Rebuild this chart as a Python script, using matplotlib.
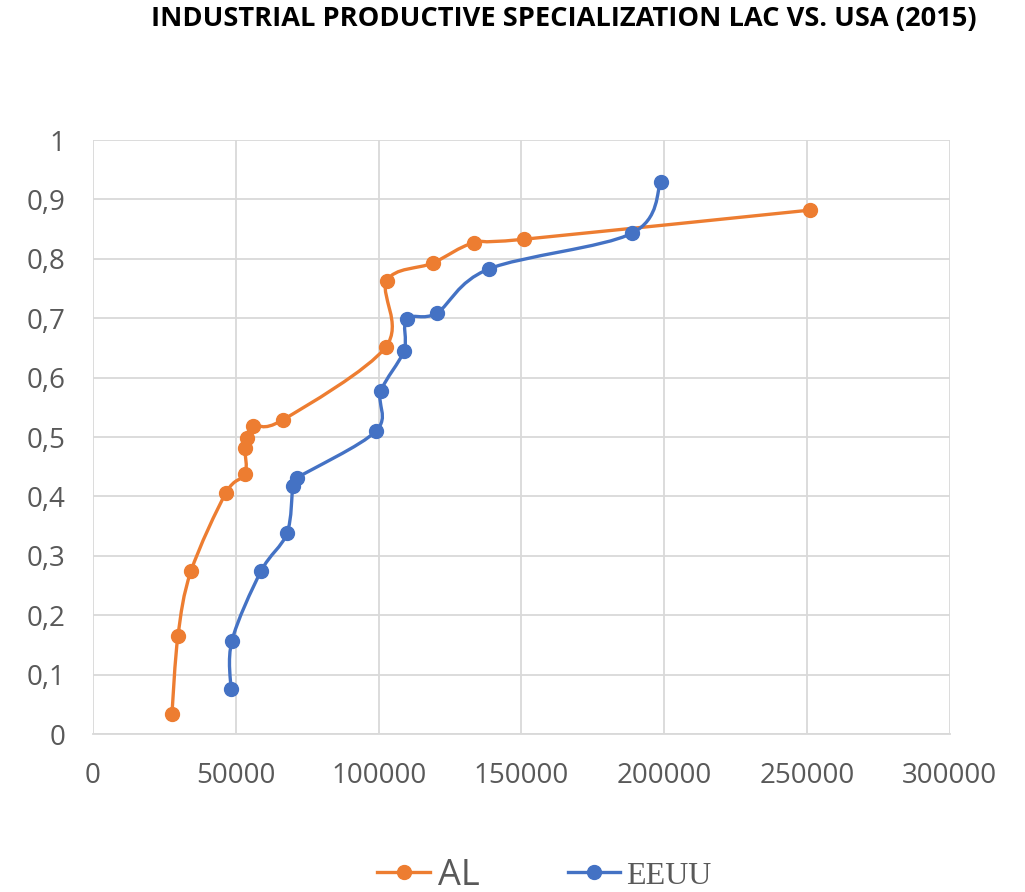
import numpy as np
import matplotlib
matplotlib.use('Agg')
import matplotlib.pyplot as plt
from matplotlib.path import Path
from matplotlib.patches import PathPatch
from matplotlib.lines import Line2D

# data
al_x = [27650, 29750, 34300, 46550, 53200, 53200, 53900, 56000, 66500,
        102550, 102900, 119000, 133350, 150850, 250950]
al_y = [0.034, 0.165, 0.274, 0.406, 0.438, 0.481, 0.498, 0.519, 0.529,
        0.652, 0.763, 0.793, 0.827, 0.833, 0.882]

eeuu_x = [48300, 48650, 58800, 67900, 70000, 71400, 99050, 100800, 108850,
          109900, 120400, 138600, 188650, 198800]
eeuu_y = [0.076, 0.157, 0.274, 0.338, 0.418, 0.431, 0.510, 0.577, 0.645,
          0.699, 0.709, 0.783, 0.843, 0.929]

x_ticks = [0, 50000, 100000, 150000, 200000, 250000, 300000]
y_ticks = [0, 0.1, 0.2, 0.3, 0.4, 0.5, 0.6, 0.7, 0.8, 0.9, 1]
y_labels = ['0', '0,1', '0,2', '0,3', '0,4', '0,5', '0,6', '0,7', '0,8', '0,9', '1']

ORANGE = '#ED7D31'
BLUE = '#4472C4'
GREY = '#595959'


def smooth_path(ax, xs, ys):
    # Excel-style smoothed line: cubic bezier segments (Catmull-Rom controls)
    # built in display space so both axes get the same weight
    pts = ax.transData.transform(np.column_stack([xs, ys]))
    n = len(pts)
    verts = [pts[0]]
    codes = [Path.MOVETO]
    for i in range(n - 1):
        p0 = pts[max(i - 1, 0)]
        p1 = pts[i]
        p2 = pts[i + 1]
        p3 = pts[min(i + 2, n - 1)]
        c1 = p1 + (p2 - p0) / 6.0
        c2 = p2 - (p3 - p1) / 6.0
        verts += [c1, c2, p2]
        codes += [Path.CURVE4] * 3
    return Path(verts, codes)


fig = plt.figure(figsize=(10.25, 8.92), dpi=100)
ax = fig.add_axes([0.0907, 0.177, 0.836, 0.666])
ax.set_xlim(0, 300000)
ax.set_ylim(0, 1)

ax.set_xticks(x_ticks)
ax.set_xticklabels([str(t) for t in x_ticks])
ax.set_yticks(y_ticks)
ax.set_yticklabels(y_labels)
ax.tick_params(length=0, labelsize=20, labelcolor=GREY)
ax.tick_params(axis='x', pad=20)
ax.tick_params(axis='y', pad=20)
for lab in ax.get_xticklabels() + ax.get_yticklabels():
    lab.set_family('Open Sans')
ax.grid(True, color='#d9d9d9', linewidth=1.3)
ax.set_axisbelow(True)
for side in ['top', 'right', 'left']:
    ax.spines[side].set_visible(False)
ax.spines['bottom'].set_color('#d9d9d9')
ax.spines['bottom'].set_linewidth(1.3)

fig.canvas.draw()
for xs, ys, col in [(al_x, al_y, ORANGE), (eeuu_x, eeuu_y, BLUE)]:
    path = smooth_path(ax, xs, ys)
    ax.add_patch(PathPatch(path, facecolor='none', edgecolor=col, lw=2.4,
                           transform=None, zorder=3, capstyle='round'))
    ax.plot(xs, ys, linestyle='none', marker='o', markersize=10,
            color=col, zorder=4)

fig.text(0.550, 0.979, 'INDUSTRIAL PRODUCTIVE SPECIALIZATION LAC VS. USA (2015)',
         ha='center', va='center', fontsize=19.6, fontweight='bold',
         family='Open Sans', color='black')

# legend drawn as two pieces so the labels can use different fonts
h_al = Line2D([], [], color=ORANGE, lw=2.4, marker='o', markersize=10)
h_us = Line2D([], [], color=BLUE, lw=2.4, marker='o', markersize=10)
leg1 = fig.legend([h_al], ['AL'], loc='center left', bbox_to_anchor=(0.368, 0.018),
                  frameon=False, handlelength=1.47, handletextpad=0.2,
                  borderpad=0, borderaxespad=0,
                  prop={'family': 'Open Sans', 'size': 26})
for t in leg1.get_texts():
    t.set_color(GREY)
leg2 = fig.legend([h_us], ['EEUU'], loc='center left', bbox_to_anchor=(0.554, 0.018),
                  frameon=False, handlelength=1.63, handletextpad=0.19,
                  borderpad=0, borderaxespad=0,
                  prop={'family': 'Liberation Serif', 'size': 23})
for t in leg2.get_texts():
    t.set_color(GREY)

fig.savefig('out.png', dpi=100)
